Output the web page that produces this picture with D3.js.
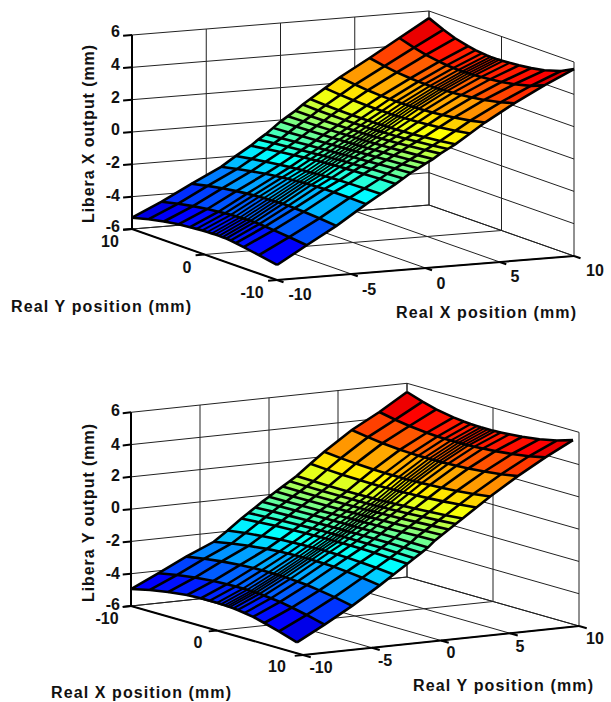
<!DOCTYPE html>
<html lang="en">
<head>
    <meta charset="UTF-8">
    <title>Libera output surfaces</title>
    <script src="https://d3js.org/d3.v7.min.js"></script>
    <style>
        body { margin: 0; background: #fff; }
        svg { display: block; }
        text { font-family: "Liberation Sans", Arial, sans-serif; font-weight: bold; font-size: 16px; fill: #111; }
    </style>
</head>
<body>
    <div id="chart"></div>

    <script>
        // ticks
        const zTicks = [-6, -4, -2, 0, 2, 4, 6];
        const uTicks = [-10, -5, 0, 5, 10];
        const vTicks = [-10, 0, 10];
        const colorLimits = [-5.9, 6.1];

        // mesh rows, same for both plots (mm along the right hand axis)
        const rowPositions = [-10, -8, -6, -4, -3, -2, -1.5, -1, -0.5, 0, 0.5, 1, 1.5, 2, 3, 4, 6, 8, 10];
        // column lines get thin where they bunch up in the middle
        const colLineWidths = [2.6, 2.6, 2.6, 2.6, 2.4, 2.2, 2, 1.8, 1.7, 1.7, 1.8, 2, 2.2, 2.4, 2.6, 2.6, 2.6, 2.6];

        // top plot: mesh columns (Real Y) at the Real X = -10 end and at the Real X = 10 end
        const topColsLow = [10, 7.7, 5.6, 3.6, 2, 1.1, 0.3, -0.4, -1, -1.5, -2, -2.5, -3, -3.6, -4.3, -5.4, -7.5, -10];
        const topColsHigh = [10, 8, 6.4, 4.6, 3.6, 2.7, 2, 1.5, 1.1, 0.7, 0.3, -0.2, -1.1, -2.4, -4.1, -5.9, -8.2, -10];
        // top plot: output per row, along the back edge, the front edge and the middle
        const topZBack = [-5.3, -4.46, -3.5, -2.6, -2, -1.44, -1.1, -0.8, -0.45, -0.1, 0.2, 0.5, 0.85, 1.15, 1.75, 2.35, 3.39, 4.48, 5.56];
        const topZFront = [-5.07, -4, -2.95, -1.75, -1.2, -0.65, -0.35, -0.05, 0.2, 0.45, 0.7, 1, 1.25, 1.5, 2.1, 2.7, 3.75, 4.7, 5.56];
        const topZMiddle = [-4.55, -3.75, -2.8, -1.85, -1.4, -0.9, -0.65, -0.4, -0.15, 0.1, 0.35, 0.6, 0.85, 1.1, 1.6, 2.1, 3, 3.8, 4.5];
        const topBow = [0, 0.38, 0.64, 0.83, 0.92, 0.96, 0.99, 1, 1, 1, 0.99, 0.98, 0.96, 0.91, 0.82, 0.68, 0.38, 0];

        // bottom plot, same arrays with the axes swapped
        const botColsLow = [-10, -7.8, -5.7, -3.5, -1.9, -0.85, 0, 0.5, 0.9, 1.2, 1.5, 1.9, 2.4, 3.2, 4.2, 5.5, 7.2, 9.3];
        const botColsHigh = [-10, -8.2, -6.6, -4.6, -3.4, -2.6, -1.9, -1.4, -1, -0.6, -0.2, 0.2, 0.9, 1.9, 3.4, 5.4, 7.4, 9.3];
        const botZBack = [-4.95, -4.15, -3.3, -2.56, -1.95, -1.3, -1, -0.7, -0.4, -0.13, 0.15, 0.42, 0.7, 0.98, 1.65, 2.3, 3.47, 4.4, 5.46];
        const botZFront = [-5.45, -4.5, -3.5, -2.4, -1.8, -1.2, -0.9, -0.6, -0.3, 0.1, 0.4, 0.7, 1, 1.3, 1.9, 2.5, 3.6, 4.6, 5.53];
        const botZMiddle = [-4.27, -3.6, -2.8, -1.95, -1.5, -1.05, -0.8, -0.55, -0.3, -0.05, 0.2, 0.45, 0.7, 0.95, 1.5, 2.05, 3.05, 3.9, 4.58];
        const botBow = [0, 0.36, 0.62, 0.84, 0.93, 0.97, 0.99, 1, 1, 1, 1, 0.99, 0.97, 0.93, 0.86, 0.7, 0.47, 0.13];

        const jet = d3.scaleLinear()
            .domain([0, 0.125, 0.375, 0.625, 0.875, 1])
            .range(["#000090", "#0000ff", "#00ffff", "#ffff00", "#ff0000", "#800000"])
            .clamp(true);
        const colorPos = d3.scaleLinear().domain(colorLimits).range([0, 1]);

        const svg = d3.select("#chart").append("svg").attr("width", 611).attr("height", 702);

        function drawPanel(p) {
            const g = svg.append("g");

            // oblique projection of the box, one pixel scale per axis
            const uX = d3.scaleLinear().domain([-10, 10]).range([0, p.uVec[0]]);
            const uY = d3.scaleLinear().domain([-10, 10]).range([0, p.uVec[1]]);
            const vX = d3.scaleLinear().domain([p.vBack, -p.vBack]).range([0, p.vVec[0]]);
            const vY = d3.scaleLinear().domain([p.vBack, -p.vBack]).range([0, p.vVec[1]]);
            const zY = d3.scaleLinear().domain([-6, 6]).range([0, -p.zHeight]);
            const project = (u, v, z) => [p.ox + uX(u) + vX(v), p.oy + uY(u) + vY(v) + zY(z)];
            const seg = d3.line();
            const onMesh = d3.line().x(d => project(d.u, d.v, d.z)[0]).y(d => project(d.u, d.v, d.z)[1]);

            // grid on the two back walls and the floor
            const vFront = -p.vBack;
            const gridLines = [];
            zTicks.forEach(z => {
                gridLines.push([project(-10, p.vBack, z), project(10, p.vBack, z)]);
                gridLines.push([project(10, p.vBack, z), project(10, vFront, z)]);
            });
            uTicks.forEach(u => {
                gridLines.push([project(u, p.vBack, -6), project(u, p.vBack, 6)]);
                gridLines.push([project(u, p.vBack, -6), project(u, vFront, -6)]);
            });
            vTicks.forEach(v => {
                gridLines.push([project(10, v, -6), project(10, v, 6)]);
                gridLines.push([project(-10, v, -6), project(10, v, -6)]);
            });
            g.append("g").selectAll("path").data(gridLines).join("path")
                .attr("d", seg).attr("fill", "none").attr("stroke", "#222").attr("stroke-width", 1);

            // axes and tick marks
            const axisLines = [
                [project(-10, p.vBack, -6), project(-10, p.vBack, 6)],
                [project(-10, p.vBack, -6), project(-10, vFront, -6)],
                [project(-10, vFront, -6), project(10, vFront, -6)]
            ];
            zTicks.forEach(z => axisLines.push([project(-10, p.vBack, z), project(-10.6, p.vBack, z)]));
            vTicks.forEach(v => axisLines.push([project(-10, v, -6), project(-10.6, v, -6)]));
            uTicks.forEach(u => axisLines.push([project(u, vFront, -6), project(u, vFront + (vFront > 0 ? 0.9 : -0.9), -6)]));
            g.append("g").selectAll("path").data(axisLines).join("path")
                .attr("d", seg).attr("fill", "none").attr("stroke", "#000").attr("stroke-width", 2);

            // surface: far rows first so nearer cells paint over them
            const last = p.colsLow.length - 1;
            const mesh = rowPositions.map((u, i) => p.colsLow.map((low, j) => {
                const at = (u + 10) / 20;
                const v = low + (p.colsHigh[j] - low) * at;
                const t = (v - p.colsLow[0]) / (p.colsLow[last] - p.colsLow[0]);
                const edge = p.zBack[i] + (p.zFront[i] - p.zBack[i]) * t;
                const z = edge + p.bow[j] * (p.zMiddle[i] - (p.zBack[i] + p.zFront[i]) / 2);
                return { u, v, z };
            }));

            const cells = [];
            for (let i = rowPositions.length - 2; i >= 0; i--) {
                for (let j = 0; j < last; j++) {
                    cells.push([mesh[i][j], mesh[i + 1][j], mesh[i + 1][j + 1], mesh[i][j + 1]]);
                }
            }
            const cellColor = c => jet(colorPos(d3.mean(c, d => d.z)));

            g.append("g").selectAll("path").data(cells).join("path")
                .attr("d", c => onMesh(c) + "Z")
                .attr("fill", cellColor)
                .attr("stroke", cellColor)
                .attr("stroke-width", 0.5);

            // mesh lines on top of the fills
            const meshCols = p.colsLow.map((d, j) => mesh.map(row => row[j]));
            g.append("g").selectAll("path").data(meshCols).join("path")
                .attr("d", onMesh)
                .attr("fill", "none")
                .attr("stroke", "#000")
                .attr("stroke-width", (d, j) => colLineWidths[j]);
            g.append("g").selectAll("path").data(mesh).join("path")
                .attr("d", onMesh)
                .attr("fill", "none")
                .attr("stroke", "#000")
                .attr("stroke-width", 2.6);

            // tick labels
            g.append("g").selectAll("text").data(zTicks).join("text")
                .attr("x", p.zLabelX)
                .attr("y", (d, i) => p.zLabelY[i])
                .attr("dy", "0.36em")
                .attr("text-anchor", "end")
                .text(d => d);
            g.append("g").selectAll("text").data(vTicks).join("text")
                .attr("x", (d, i) => p.vLabels[i][0])
                .attr("y", (d, i) => p.vLabels[i][1])
                .attr("dy", "0.36em")
                .attr("text-anchor", "middle")
                .text(d => d);
            g.append("g").selectAll("text").data(uTicks).join("text")
                .attr("x", (d, i) => p.uLabels[i][0])
                .attr("y", (d, i) => p.uLabels[i][1])
                .attr("dy", "0.36em")
                .attr("text-anchor", "middle")
                .text(d => d);

            // axis titles, stretched a little like the original print
            g.append("text")
                .attr("transform", `translate(${p.zTitle[0]},${p.zTitle[1]}) rotate(-90)`)
                .attr("dy", "0.36em").attr("text-anchor", "middle")
                .attr("textLength", 178).attr("lengthAdjust", "spacing")
                .text(p.zName);
            g.append("text")
                .attr("x", p.vTitle[0]).attr("y", p.vTitle[1])
                .attr("dy", "0.36em").attr("text-anchor", "middle")
                .attr("textLength", 180).attr("lengthAdjust", "spacing")
                .text(p.vName);
            g.append("text")
                .attr("x", p.uTitle[0]).attr("y", p.uTitle[1])
                .attr("dy", "0.36em").attr("text-anchor", "middle")
                .attr("textLength", 180).attr("lengthAdjust", "spacing")
                .text(p.uName);
        }

        drawPanel({
            ox: 132, oy: 229, uVec: [297, -24], vVec: [145, 51], zHeight: 194, vBack: 10,
            colsLow: topColsLow, colsHigh: topColsHigh,
            zBack: topZBack, zFront: topZFront, zMiddle: topZMiddle, bow: topBow,
            zLabelX: 120, zLabelY: [226, 195, 162, 129, 97, 64, 31],
            vLabels: [[252, 292], [187, 267], [110, 241]],
            uLabels: [[300, 294], [369, 289], [441, 283], [515, 276], [595, 270]],
            zTitle: [88, 134], vTitle: [101, 306], uTitle: [486, 312],
            zName: "Libera X output (mm)", vName: "Real Y position (mm)", uName: "Real X position (mm)"
        });

        drawPanel({
            ox: 131, oy: 606, uVec: [276, -29], vVec: [172, 49], zHeight: 193.7, vBack: -10,
            colsLow: botColsLow, colsHigh: botColsHigh,
            zBack: botZBack, zFront: botZFront, zMiddle: botZMiddle, bow: botBow,
            zLabelX: 120, zLabelY: [604, 573, 540, 507, 475, 444, 410],
            vLabels: [[107, 618], [198, 642], [277, 666]],
            uLabels: [[321, 667], [385, 660], [451, 652], [520, 646], [595, 638]],
            zTitle: [88, 513], vTitle: [141, 692], uTitle: [503, 685],
            zName: "Libera Y output (mm)", vName: "Real X position (mm)", uName: "Real Y position (mm)"
        });
    </script>
</body>
</html>
